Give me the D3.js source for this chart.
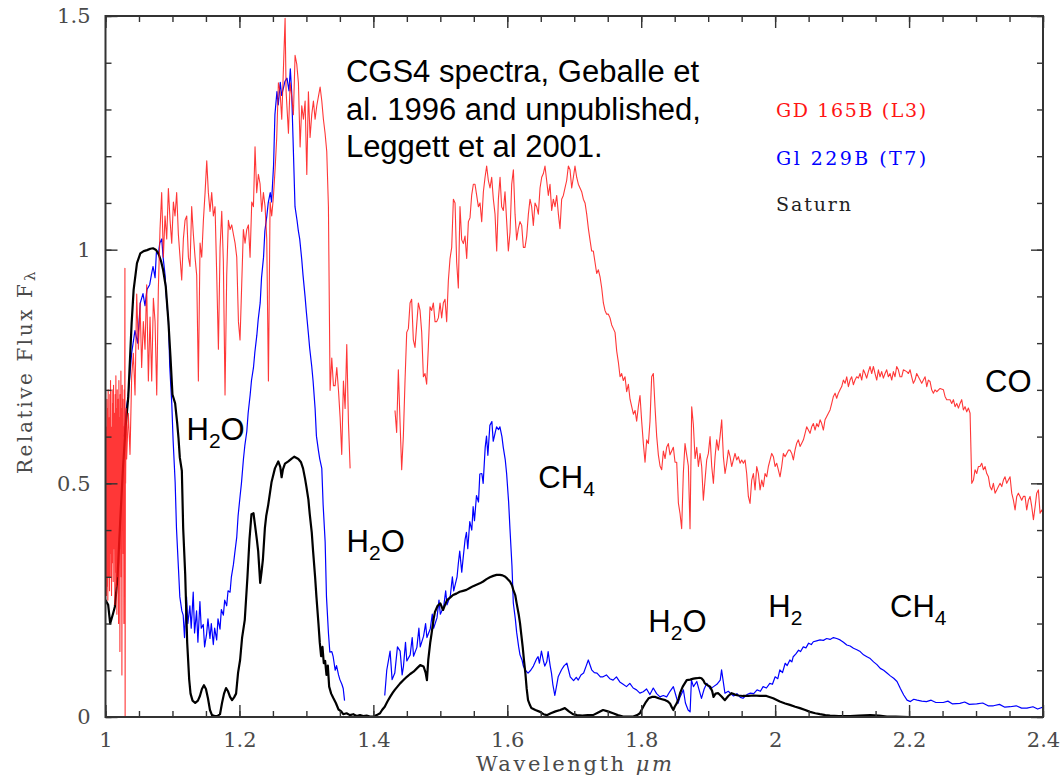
<!DOCTYPE html>
<html>
<head>
<meta charset="utf-8">
<script src="https://cdn.jsdelivr.net/npm/d3@7"></script>
<style>
  body { margin: 0; background: #fff; }
  svg { display: block; }
</style>
</head>
<body>
<svg id="chart" width="1063" height="780"></svg>
<script>
// ---- Spectra: [wavelength (µm), relative flux F_lambda] ----

// GD 165B (L3), J band (dense noisy start below 1.03 µm)
const gd165bJ = [
  [1.000,0.30],[1.001,0.62],[1.0015,0.26],[1.002,0.68],[1.0025,0.28],[1.003,0.66],[1.0035,0.25],[1.004,0.70],
  [1.005,0.30],[1.0055,0.64],[1.006,0.27],[1.0065,0.69],[1.007,0.35],[1.0075,0.72],[1.008,0.30],[1.0085,0.62],
  [1.009,0.26],[1.010,0.70],[1.0105,0.33],[1.011,0.67],[1.0115,0.29],[1.012,0.71],[1.0125,0.36],[1.013,0.65],
  [1.014,0.24],[1.0145,0.69],[1.015,0.31],[1.0155,0.73],[1.016,0.28],[1.0165,0.66],[1.017,0.22],[1.0175,0.70],
  [1.018,0.30],[1.019,0.68],[1.0195,0.20],[1.020,0.72],[1.0205,0.33],[1.021,0.64],[1.0215,0.14],[1.022,0.69],
  [1.0225,0.36],[1.023,0.74],[1.0235,0.30],[1.024,0.66],[1.0245,0.09],[1.025,0.71],[1.0255,0.40],[1.026,0.68],
  [1.0265,0.35],[1.027,0.62],[1.0275,0.20],[1.028,0.70],[1.0285,0.45],[1.029,0.96],[1.0293,0.00],[1.0297,0.55],
  [1.030,0.50],[1.031,0.66],[1.0316,0.552],[1.0341,0.650],[1.0366,0.562],[1.0391,0.729],[1.0416,0.778],
  [1.0441,0.689],[1.0466,0.905],[1.0491,0.787],[1.0516,0.886],[1.0540,0.748],[1.0565,0.846],[1.0590,0.787],
  [1.0615,0.925],[1.0640,0.719],[1.0665,0.856],[1.0690,0.719],[1.0715,0.896],[1.0740,0.846],[1.0765,0.689],
  [1.0789,0.915],[1.0814,1.043],[1.0839,1.122],[1.0864,0.984],[1.0889,1.072],[1.0914,1.023],[1.0939,1.131],
  [1.0964,1.063],[1.0989,1.014],[1.1014,1.102],[1.1038,1.072],[1.1063,1.122],[1.1088,1.033],[1.1113,0.984],
  [1.1138,0.935],[1.1163,1.023],[1.1188,1.063],[1.1213,1.072],[1.1238,0.984],[1.1262,0.964],[1.1287,1.092],
  [1.1312,1.033],[1.1337,0.984],[1.1362,0.945],[1.1387,0.719],[1.1412,1.014],[1.1437,0.984],[1.1462,1.063],
  [1.1487,1.122],[1.1512,1.190],[1.1536,1.122],[1.1561,1.082],[1.1586,1.122],[1.1611,1.072],[1.1636,1.092],
  [1.1661,0.945],[1.1686,0.787],[1.1711,1.004],[1.1736,1.082],[1.1760,0.974],[1.1785,0.689],[1.1810,0.945],
  [1.1835,1.063],[1.1860,1.043],[1.1885,1.053],[1.1910,1.033],[1.1935,1.014],[1.1960,0.984],[1.1985,0.846],
  [1.2009,0.807],[1.2034,0.925],[1.2059,1.043],[1.2084,1.014],[1.2109,1.043],[1.2134,1.053],[1.2159,0.984],
  [1.2184,1.102],[1.2209,1.092],[1.2233,1.220],[1.2258,1.122],[1.2283,1.161],[1.2308,1.141],[1.2333,1.082],
  [1.2358,1.122],[1.2383,1.092],[1.2408,1.023],[1.2433,0.719],[1.2458,1.102],[1.2482,1.072],[1.2507,1.112],
  [1.2532,1.171],[1.2557,1.240],[1.2582,1.357],[1.2607,1.338],[1.2632,1.279],[1.2657,1.387],[1.2682,1.495],
  [1.2697,1.338],[1.2732,1.249],[1.2757,1.357],[1.2781,1.328],[1.2806,1.289],[1.2831,1.416],[1.2856,1.397],
  [1.2881,1.357],[1.2906,1.220],[1.2931,1.308],[1.2956,1.279],[1.2981,1.318],[1.3006,1.161],[1.3030,1.338],
  [1.3055,1.240],[1.3080,1.289],[1.3105,1.318],[1.3130,1.279],[1.3155,1.308],[1.3180,1.328],[1.3205,1.348],
  [1.3230,1.318],[1.3254,1.279],[1.3279,1.249],[1.3304,1.210],[1.3329,1.092],[1.3354,0.699],[1.3379,0.768],
  [1.3404,0.709],[1.3429,0.709],[1.3454,0.748],[1.3479,0.699],[1.3504,0.640],[1.3528,0.562],[1.3553,0.719],
  [1.3578,0.660],[1.3603,0.797],[1.3628,0.630],[1.3653,0.532]
];

// GD 165B (L3), H and K bands
const gd165bHK = [
  [1.4323,0.656],[1.4348,0.609],[1.4373,0.743],[1.4398,0.633],[1.4423,0.529],[1.4448,0.601],[1.4473,0.720],
  [1.4498,0.823],[1.4523,0.831],[1.4548,0.886],[1.4572,0.894],[1.4597,0.807],[1.4622,0.791],[1.4647,0.839],
  [1.4672,0.886],[1.4697,0.870],[1.4722,0.823],[1.4747,0.728],[1.4771,0.735],[1.4796,0.712],[1.4821,0.791],
  [1.4846,0.878],[1.4871,0.870],[1.4896,0.886],[1.4921,0.846],[1.4946,0.846],[1.4971,0.854],[1.4996,0.886],
  [1.5020,0.854],[1.5045,0.886],[1.5070,0.894],[1.5095,0.846],[1.5120,0.934],[1.5145,0.981],[1.5170,1.005],
  [1.5195,1.108],[1.5220,1.100],[1.5244,0.973],[1.5269,0.918],[1.5294,1.092],[1.5319,1.021],[1.5344,1.013],
  [1.5369,1.029],[1.5394,0.981],[1.5419,1.060],[1.5443,1.068],[1.5468,1.116],[1.5493,1.140],[1.5518,1.140],
  [1.5543,1.116],[1.5568,1.092],[1.5593,1.100],[1.5618,1.060],[1.5643,1.124],[1.5668,1.155],[1.5692,1.179],
  [1.5717,1.148],[1.5742,1.132],[1.5767,1.155],[1.5792,1.108],[1.5817,1.076],[1.5842,0.997],[1.5867,1.108],
  [1.5892,1.155],[1.5916,1.092],[1.5941,1.084],[1.5966,1.124],[1.5991,1.060],[1.6016,0.997],[1.6041,1.037],
  [1.6066,1.140],[1.6091,1.171],[1.6116,1.076],[1.6140,1.021],[1.6165,1.045],[1.6190,1.060],[1.6215,1.052],
  [1.6240,1.005],[1.6265,1.005],[1.6290,1.029],[1.6315,1.076],[1.6339,1.108],[1.6364,1.092],[1.6389,1.052],
  [1.6414,1.100],[1.6439,1.092],[1.6464,1.076],[1.6489,1.132],[1.6514,1.155],[1.6539,1.163],[1.6563,1.179],
  [1.6588,1.148],[1.6613,1.116],[1.6638,1.140],[1.6663,1.084],[1.6688,1.108],[1.6713,1.092],[1.6738,1.116],
  [1.6763,1.076],[1.6787,1.045],[1.6812,1.108],[1.6837,1.116],[1.6862,1.132],[1.6887,1.148],[1.6912,1.179],
  [1.6937,1.171],[1.6962,1.132],[1.6987,1.155],[1.7011,1.179],[1.7036,1.155],[1.7061,1.140],[1.7086,1.132],
  [1.7111,1.124],[1.7136,1.108],[1.7161,1.100],[1.7186,1.076],[1.7211,1.045],[1.7235,1.021],[1.7260,0.997],
  [1.7285,0.997],[1.7310,0.973],[1.7335,0.949],[1.7360,0.957],[1.7385,0.942],[1.7410,0.918],[1.7435,0.886],
  [1.7459,0.870],[1.7484,0.862],[1.7509,0.862],[1.7534,0.854],[1.7559,0.839],[1.7584,0.831],[1.7609,0.823],
  [1.7634,0.783],[1.7659,0.759],[1.7684,0.728],[1.7708,0.735],[1.7733,0.720],[1.7758,0.728],[1.7783,0.696],
  [1.7808,0.712],[1.7833,0.680],[1.7858,0.664],[1.7883,0.648],[1.7908,0.656],[1.7932,0.633],[1.7957,0.664],
  [1.7982,0.688],[1.8007,0.633],[1.8032,0.585],[1.8057,0.545],[1.8082,0.593],[1.8107,0.585],[1.8131,0.633],
  [1.8156,0.728],[1.8181,0.735],[1.8206,0.664],[1.8231,0.601],[1.8256,0.561],[1.8281,0.537],[1.8306,0.529],
  [1.8331,0.569],[1.8356,0.553],[1.8380,0.577],[1.8405,0.585],[1.8430,0.561],[1.8455,0.569],[1.8480,0.577],
  [1.8505,0.545],[1.8530,0.545],[1.8555,0.458],[1.8580,0.435],[1.8604,0.403],[1.8629,0.522],[1.8654,0.585],
  [1.8679,0.561],[1.8704,0.537],[1.8729,0.403],[1.8754,0.664],[1.8779,0.625],[1.8804,0.553],[1.8829,0.577],
  [1.8854,0.536],[1.8879,0.564],[1.8903,0.536],[1.8928,0.464],[1.8953,0.507],[1.8978,0.550],[1.9003,0.564],
  [1.9028,0.600],[1.9053,0.536],[1.9078,0.500],[1.9103,0.557],[1.9127,0.593],[1.9152,0.571],[1.9177,0.600],
  [1.9202,0.636],[1.9227,0.557],[1.9252,0.521],[1.9277,0.543],[1.9302,0.571],[1.9327,0.557],[1.9351,0.536],
  [1.9376,0.550],[1.9401,0.564],[1.9426,0.550],[1.9451,0.557],[1.9476,0.543],[1.9501,0.550],[1.9526,0.543],
  [1.9551,0.550],[1.9575,0.521],[1.9600,0.472],[1.9625,0.457],[1.9650,0.507],[1.9675,0.521],[1.9700,0.486],
  [1.9725,0.536],[1.9750,0.521],[1.9775,0.486],[1.9800,0.507],[1.9824,0.493],[1.9849,0.521],[1.9874,0.514],
  [1.9899,0.536],[1.9924,0.550],[1.9949,0.564],[1.9974,0.557],[1.9999,0.536],[2.0023,0.543],[2.0048,0.529],
  [2.0073,0.514],[2.0098,0.536],[2.0123,0.564],[2.0148,0.557],[2.0173,0.564],[2.0198,0.571],[2.0223,0.571],
  [2.0248,0.564],[2.0272,0.550],[2.0297,0.571],[2.0322,0.586],[2.0347,0.593],[2.0372,0.579],[2.0397,0.586],
  [2.0422,0.593],[2.0447,0.607],[2.0471,0.621],[2.0496,0.614],[2.0521,0.607],[2.0546,0.621],[2.0571,0.628],
  [2.0596,0.614],[2.0621,0.628],[2.0646,0.621],[2.0671,0.636],[2.0695,0.628],[2.0720,0.614],[2.0745,0.636],
  [2.0770,0.643],[2.0795,0.650],[2.0820,0.657],[2.0845,0.671],[2.0870,0.686],[2.0895,0.693],[2.0919,0.682],
  [2.0944,0.693],[2.0969,0.700],[2.0994,0.707],[2.1019,0.721],[2.1044,0.714],[2.1069,0.728],[2.1094,0.707],
  [2.1119,0.721],[2.1143,0.728],[2.1168,0.711],[2.1193,0.721],[2.1218,0.728],[2.1243,0.725],[2.1268,0.735],
  [2.1293,0.721],[2.1318,0.743],[2.1343,0.735],[2.1367,0.725],[2.1392,0.739],[2.1417,0.750],[2.1442,0.735],
  [2.1467,0.750],[2.1492,0.735],[2.1517,0.721],[2.1542,0.743],[2.1566,0.728],[2.1591,0.739],[2.1616,0.725],
  [2.1641,0.735],[2.1666,0.743],[2.1691,0.728],[2.1716,0.735],[2.1741,0.721],[2.1766,0.739],[2.1790,0.728],
  [2.1815,0.750],[2.1840,0.743],[2.1865,0.728],[2.1890,0.728],[2.1915,0.743],[2.1965,0.739],[2.1990,0.735],
  [2.2015,0.743],[2.2039,0.728],[2.2064,0.714],[2.2089,0.721],[2.2114,0.735],[2.2139,0.728],[2.2164,0.721],
  [2.2189,0.714],[2.2214,0.721],[2.2239,0.728],[2.2264,0.707],[2.2288,0.721],[2.2313,0.718],[2.2338,0.700],
  [2.2363,0.693],[2.2388,0.700],[2.2413,0.696],[2.2463,0.703],[2.2513,0.700],[2.2537,0.686],[2.2562,0.679],
  [2.2612,0.679],[2.2637,0.671],[2.2662,0.679],[2.2687,0.664],[2.2712,0.671],[2.2737,0.661],[2.2761,0.671],
  [2.2786,0.679],[2.2811,0.657],[2.2836,0.664],[2.2861,0.653],[2.2886,0.661],[2.2911,0.650],[2.2936,0.500],
  [2.2961,0.507],[2.2985,0.529],[2.3010,0.521],[2.3035,0.536],[2.3060,0.536],[2.3085,0.543],[2.3110,0.529],
  [2.3135,0.536],[2.3160,0.521],[2.3185,0.514],[2.3209,0.493],[2.3234,0.486],[2.3259,0.500],[2.3284,0.479],
  [2.3309,0.486],[2.3334,0.493],[2.3359,0.500],[2.3384,0.493],[2.3409,0.507],[2.3433,0.514],[2.3458,0.500],
  [2.3483,0.507],[2.3508,0.514],[2.3533,0.479],[2.3558,0.464],[2.3583,0.443],[2.3608,0.472],[2.3632,0.479],
  [2.3657,0.472],[2.3682,0.464],[2.3707,0.472],[2.3732,0.472],[2.3757,0.443],[2.3782,0.464],[2.3807,0.472],
  [2.3832,0.450],[2.3857,0.422],[2.3882,0.450],[2.3906,0.479],[2.3931,0.486],[2.3956,0.436],[2.3981,0.443],
  [2.4000,0.436]
];

// Gl 229B (T7), J band
const gl229bJ = [
  [1.028,0.60],[1.031,0.66],[1.034,0.689],[1.039,0.778],[1.044,0.827],[1.048,0.80],[1.052,0.886],[1.056,0.906],
  [1.059,0.88],[1.062,0.915],[1.066,0.925],[1.069,0.95],[1.071,0.964],[1.074,0.94],[1.076,0.994],[1.079,0.99],
  [1.081,1.014],[1.084,1.023],[1.086,0.984],[1.089,0.945],[1.091,0.896],[1.094,0.847],[1.096,0.748],[1.099,0.670],
  [1.101,0.591],[1.104,0.503],[1.106,0.404],[1.109,0.316],[1.111,0.257],[1.114,0.227],[1.116,0.218],[1.118,0.17],
  [1.121,0.257],[1.123,0.20],[1.126,0.238],[1.128,0.19],[1.131,0.267],[1.133,0.18],[1.136,0.227],[1.138,0.16],
  [1.141,0.247],[1.143,0.19],[1.146,0.198],[1.148,0.15],[1.151,0.178],[1.153,0.21],[1.156,0.168],[1.158,0.20],
  [1.161,0.155],[1.163,0.19],[1.166,0.165],[1.168,0.21],[1.171,0.188],[1.173,0.23],[1.176,0.218],[1.178,0.25],
  [1.181,0.238],[1.183,0.27],[1.186,0.267],[1.188,0.30],[1.191,0.326],[1.193,0.35],[1.196,0.385],[1.198,0.43],
  [1.201,0.473],[1.203,0.50],[1.206,0.552],[1.208,0.58],[1.211,0.611],[1.213,0.65],[1.216,0.689],[1.218,0.72],
  [1.221,0.748],[1.223,0.78],[1.226,0.817],[1.228,0.85],[1.231,0.886],[1.233,0.94],[1.236,0.984],[1.238,1.04],
  [1.241,1.073],[1.243,1.10],[1.246,1.122],[1.248,1.102],[1.251,1.181],[1.253,1.289],[1.256,1.338],[1.258,1.31],
  [1.261,1.358],[1.263,1.33],[1.266,1.348],[1.268,1.36],[1.271,1.367],[1.274,1.34],[1.276,1.387],[1.278,1.338],
  [1.280,1.240],[1.283,1.092],[1.286,1.063],[1.288,1.04],[1.290,1.023],[1.293,0.98],[1.295,0.945],[1.298,0.90],
  [1.300,0.866],[1.303,0.82],[1.305,0.788],[1.308,0.75],[1.310,0.719],[1.313,0.66],[1.315,0.601],[1.318,0.57],
  [1.320,0.552],[1.323,0.532],[1.325,0.454],[1.328,0.375],[1.330,0.257],[1.333,0.178],[1.335,0.139],[1.338,0.14],
  [1.340,0.129],[1.343,0.10],[1.345,0.110],[1.348,0.09],[1.350,0.080],[1.353,0.07],[1.355,0.061],[1.357,0.035]
];

// Gl 229B (T7), H and K bands
const gl229bHK = [
  [1.417,0.046],[1.420,0.10],[1.425,0.141],[1.428,0.08],[1.432,0.094],[1.436,0.15],[1.440,0.141],[1.443,0.09],
  [1.445,0.109],[1.448,0.16],[1.450,0.12],[1.455,0.133],[1.458,0.17],[1.460,0.13],[1.465,0.149],[1.468,0.19],
  [1.470,0.15],[1.475,0.173],[1.478,0.20],[1.480,0.17],[1.485,0.189],[1.488,0.22],[1.490,0.19],[1.495,0.212],
  [1.498,0.25],[1.500,0.22],[1.505,0.236],[1.508,0.27],[1.510,0.24],[1.515,0.260],[1.518,0.30],[1.520,0.27],
  [1.525,0.300],[1.527,0.33],[1.529,0.355],[1.532,0.31],[1.534,0.339],[1.537,0.38],[1.539,0.395],[1.541,0.36],
  [1.544,0.418],[1.547,0.40],[1.549,0.450],[1.551,0.42],[1.554,0.474],[1.557,0.46],[1.559,0.52],[1.562,0.521],
  [1.564,0.50],[1.567,0.577],[1.569,0.601],[1.571,0.56],[1.574,0.624],[1.577,0.632],[1.579,0.59],[1.582,0.609],
  [1.584,0.621],[1.587,0.615],[1.589,0.621],[1.592,0.60],[1.594,0.577],[1.597,0.55],[1.599,0.521],[1.602,0.46],
  [1.604,0.403],[1.607,0.323],[1.609,0.244],[1.612,0.21],[1.614,0.181],[1.617,0.15],[1.619,0.133],[1.622,0.122],
  [1.624,0.109],[1.627,0.10],[1.631,0.094],[1.635,0.10],[1.639,0.109],[1.644,0.125],[1.646,0.129],[1.648,0.115],
  [1.651,0.141],[1.654,0.12],[1.656,0.109],[1.659,0.118],[1.661,0.140],[1.664,0.11],[1.666,0.094],[1.668,0.07],
  [1.671,0.046],[1.674,0.07],[1.676,0.086],[1.681,0.101],[1.685,0.11],[1.689,0.115],[1.694,0.086],[1.699,0.078],
  [1.703,0.085],[1.706,0.079],[1.710,0.09],[1.714,0.094],[1.718,0.11],[1.721,0.122],[1.726,0.101],[1.730,0.095],
  [1.734,0.094],[1.739,0.086],[1.743,0.086],[1.748,0.09],[1.753,0.082],[1.758,0.079],[1.763,0.086],[1.768,0.075],
  [1.773,0.070],[1.778,0.065],[1.783,0.072],[1.788,0.062],[1.793,0.058],[1.798,0.051],[1.803,0.054],[1.808,0.06],
  [1.813,0.048],[1.818,0.062],[1.823,0.05],[1.828,0.043],[1.833,0.046],[1.838,0.043],[1.843,0.055],[1.848,0.065],
  [1.852,0.045],[1.855,0.029],[1.858,0.043],[1.863,0.058],[1.866,0.03],[1.870,0.015],[1.873,0.011],[1.875,0.079],
  [1.878,0.065],[1.883,0.076],[1.886,0.06],[1.890,0.040],[1.894,0.06],[1.898,0.072],[1.903,0.06],[1.908,0.065],
  [1.913,0.07],[1.918,0.079],[1.920,0.101],[1.925,0.051],[1.930,0.055],[1.933,0.051],[1.938,0.045],[1.943,0.05],
  [1.948,0.042],[1.952,0.040],[1.958,0.048],[1.963,0.051],[1.968,0.05],[1.973,0.058],[1.978,0.055],[1.982,0.065],
  [1.987,0.062],[1.992,0.072],[1.996,0.07],[2.000,0.086],[2.004,0.082],[2.007,0.101],[2.011,0.095],[2.015,0.115],
  [2.018,0.11],[2.022,0.122],[2.025,0.118],[2.027,0.129],[2.031,0.135],[2.035,0.143],[2.038,0.14],[2.042,0.150],
  [2.046,0.148],[2.050,0.158],[2.054,0.155],[2.057,0.161],[2.062,0.163],[2.067,0.165],[2.072,0.164],[2.077,0.168],
  [2.082,0.166],[2.087,0.170],[2.092,0.168],[2.097,0.165],[2.102,0.160],[2.107,0.154],[2.112,0.152],[2.117,0.147],
  [2.122,0.144],[2.127,0.140],[2.132,0.133],[2.137,0.129],[2.142,0.125],[2.147,0.118],[2.152,0.112],[2.157,0.104],
  [2.162,0.100],[2.167,0.094],[2.172,0.088],[2.177,0.083],[2.182,0.076],[2.187,0.061],[2.192,0.047],[2.197,0.036],
  [2.202,0.033],[2.207,0.038],[2.212,0.036],[2.219,0.034],[2.226,0.033],[2.233,0.036],[2.240,0.031],[2.251,0.031],
  [2.258,0.034],[2.265,0.028],[2.276,0.029],[2.283,0.032],[2.290,0.027],[2.301,0.028],[2.310,0.030],[2.318,0.024],
  [2.326,0.024],[2.335,0.027],[2.343,0.021],[2.351,0.022],[2.360,0.024],[2.368,0.019],[2.376,0.019],[2.385,0.022],
  [2.392,0.017],[2.400,0.021]
];

// Saturn
const saturn = [
  [1.000,0.25],[1.004,0.24],[1.007,0.200],[1.011,0.22],[1.014,0.236],[1.018,0.30],[1.022,0.42],[1.026,0.53],
  [1.030,0.62],[1.034,0.685],[1.039,0.842],[1.042,0.914],[1.047,0.971],[1.052,0.992],[1.057,0.997],[1.062,0.999],
  [1.067,1.002],[1.071,1.003],[1.075,1.000],[1.079,0.992],[1.083,0.975],[1.086,0.957],[1.090,0.921],[1.094,0.845],
  [1.097,0.771],[1.100,0.690],[1.104,0.671],[1.107,0.63],[1.109,0.597],[1.111,0.555],[1.114,0.527],[1.116,0.404],
  [1.119,0.306],[1.122,0.159],[1.125,0.080],[1.127,0.05],[1.130,0.035],[1.134,0.03],[1.138,0.035],[1.141,0.045],
  [1.144,0.06],[1.147,0.068],[1.150,0.06],[1.153,0.04],[1.156,0.015],[1.159,0.004],[1.163,0.002],[1.167,0.002],
  [1.171,0.006],[1.174,0.03],[1.177,0.05],[1.180,0.062],[1.183,0.055],[1.186,0.043],[1.189,0.036],[1.192,0.042],
  [1.195,0.05],[1.198,0.095],[1.201,0.122],[1.204,0.17],[1.208,0.208],[1.212,0.30],[1.215,0.38],[1.218,0.434],
  [1.221,0.436],[1.223,0.414],[1.226,0.38],[1.228,0.355],[1.231,0.287],[1.233,0.31],[1.235,0.336],[1.238,0.404],
  [1.240,0.43],[1.243,0.454],[1.248,0.503],[1.253,0.532],[1.258,0.547],[1.261,0.535],[1.263,0.513],[1.265,0.53],
  [1.268,0.542],[1.273,0.547],[1.278,0.553],[1.282,0.557],[1.288,0.552],[1.292,0.545],[1.295,0.532],[1.298,0.51],
  [1.300,0.493],[1.303,0.465],[1.305,0.434],[1.308,0.395],[1.310,0.355],[1.313,0.30],[1.315,0.257],[1.318,0.20],
  [1.320,0.159],[1.322,0.13],[1.324,0.15],[1.326,0.115],[1.328,0.120],[1.330,0.090],[1.332,0.11],[1.334,0.065],
  [1.337,0.05],[1.340,0.041],[1.344,0.03],[1.348,0.016],[1.352,0.012],[1.355,0.006],[1.360,0.008],[1.365,0.004],
  [1.370,0.006],[1.375,0.002],[1.380,0.004],[1.385,0.002],[1.390,0.003],[1.395,0.001],[1.400,0.001],[1.405,0.004],
  [1.410,0.008],[1.413,0.015],[1.417,0.022],[1.421,0.033],[1.425,0.043],[1.429,0.052],[1.432,0.058],[1.436,0.065],
  [1.440,0.072],[1.445,0.079],[1.450,0.086],[1.455,0.092],[1.460,0.097],[1.465,0.104],[1.470,0.111],[1.475,0.108],
  [1.478,0.095],[1.480,0.079],[1.482,0.122],[1.485,0.16],[1.487,0.179],[1.490,0.21],[1.492,0.225],[1.496,0.238],
  [1.500,0.243],[1.504,0.229],[1.507,0.24],[1.510,0.250],[1.515,0.256],[1.519,0.261],[1.524,0.264],[1.529,0.268],
  [1.534,0.27],[1.539,0.272],[1.544,0.276],[1.549,0.280],[1.554,0.283],[1.559,0.286],[1.564,0.29],[1.569,0.295],
  [1.574,0.299],[1.579,0.302],[1.584,0.304],[1.589,0.304],[1.593,0.303],[1.597,0.300],[1.600,0.296],[1.604,0.290],
  [1.607,0.282],[1.609,0.272],[1.612,0.26],[1.614,0.243],[1.617,0.22],[1.619,0.201],[1.621,0.175],[1.623,0.150],
  [1.625,0.12],[1.627,0.094],[1.629,0.06],[1.631,0.036],[1.634,0.025],[1.636,0.019],[1.642,0.015],[1.649,0.011],
  [1.654,0.006],[1.659,0.004],[1.665,0.008],[1.672,0.012],[1.679,0.015],[1.686,0.019],[1.692,0.012],[1.698,0.006],
  [1.704,0.004],[1.712,0.003],[1.720,0.004],[1.728,0.004],[1.735,0.009],[1.743,0.015],[1.750,0.012],[1.758,0.008],
  [1.765,0.004],[1.773,0.001],[1.780,0.001],[1.788,0.001],[1.794,0.004],[1.798,0.008],[1.803,0.022],[1.807,0.032],
  [1.811,0.040],[1.816,0.043],[1.821,0.043],[1.826,0.040],[1.831,0.038],[1.836,0.036],[1.840,0.033],[1.843,0.029],
  [1.846,0.02],[1.848,0.015],[1.850,0.022],[1.853,0.029],[1.856,0.04],[1.858,0.051],[1.862,0.065],[1.865,0.072],
  [1.868,0.079],[1.873,0.080],[1.878,0.082],[1.883,0.083],[1.887,0.084],[1.890,0.083],[1.893,0.078],[1.895,0.072],
  [1.899,0.068],[1.903,0.065],[1.906,0.055],[1.908,0.043],[1.911,0.05],[1.915,0.051],[1.920,0.044],[1.925,0.036],
  [1.930,0.045],[1.935,0.051],[1.940,0.048],[1.945,0.046],[1.952,0.045],[1.960,0.045],[1.968,0.046],[1.977,0.045],
  [1.987,0.045],[1.997,0.040],[2.007,0.033],[2.015,0.029],[2.022,0.026],[2.030,0.022],[2.037,0.019],[2.045,0.015],
  [2.052,0.011],[2.060,0.008],[2.067,0.006],[2.075,0.004],[2.082,0.003],[2.095,0.002],[2.112,0.002],[2.125,0.003],
  [2.142,0.004],[2.155,0.003],[2.167,0.001],[2.180,0.001],[2.200,0.000]
];

// ---- Axes ----
const xMajorTicks = [1.0, 1.2, 1.4, 1.6, 1.8, 2.0, 2.2, 2.4];
const xTickLabels = ["1", "1.2", "1.4", "1.6", "1.8", "2", "2.2", "2.4"];
const yMajorTicks = [0, 0.5, 1.0, 1.5];
const yTickLabels = ["0", "0.5", "1", "1.5"];
const xMinorStep = 0.05;
const yMinorStep = 0.1;

// ---- Text ----
const legendNames = ["GD 165B (L3)", "Gl 229B (T7)", "Saturn"];
const creditLines = ["CGS4 spectra, Geballe et", "al. 1996 and unpublished,", "Leggett et al 2001."];
// Band labels: [main, subscript, trailing]
const bandLabels = [
  ["H", "2", "O"], ["H", "2", "O"], ["CH", "4", ""], ["H", "2", "O"],
  ["H", "2", ""], ["CH", "4", ""], ["CO", "", ""]
];

// ---- Layout ----
const svg = d3.select("#chart");
const plot = { left: 105.5, right: 1043, top: 16, bottom: 717 };
const x = d3.scaleLinear().domain([1.0, 2.4]).range([plot.left, plot.right]);
const y = d3.scaleLinear().domain([0, 1.5]).range([plot.bottom, plot.top]);

const colors = { gd: "#ff1414", gl: "#0000ff", sat: "#000000", axis: "#333333", label: "#4a4a4a" };

svg.append("defs").append("clipPath").attr("id", "plotClip")
  .append("rect").attr("x", plot.left).attr("y", plot.top)
  .attr("width", plot.right - plot.left).attr("height", plot.bottom - plot.top);

const line = d3.line().x(d => x(d[0])).y(d => y(d[1]));
const lines = svg.append("g").attr("clip-path", "url(#plotClip)")
  .attr("fill", "none").attr("stroke-linejoin", "round");

// Drawing order: T dwarf, then Saturn, then the L dwarf on top
[gl229bJ, gl229bHK].forEach(s => lines.append("path").datum(s).attr("d", line)
  .attr("stroke", colors.gl).attr("stroke-width", 1.2));
lines.append("path").datum(saturn).attr("d", line)
  .attr("stroke", colors.sat).attr("stroke-width", 2.2);
[gd165bJ, gd165bHK].forEach(s => lines.append("path").datum(s).attr("d", line)
  .attr("stroke", colors.gd).attr("stroke-width", 1.1).attr("stroke-opacity", 0.85));

// Ticks on all four sides, pointing inward
const xMinor = d3.range(1.0, 2.4 + 1e-9, xMinorStep).map(v => +v.toFixed(2));
const yMinor = d3.range(0, 1.5 + 1e-9, yMinorStep).map(v => +v.toFixed(2));
const fmtX = v => xTickLabels[xMajorTicks.findIndex(t => Math.abs(t - v) < 1e-9)];
const fmtY = v => yTickLabels[yMajorTicks.findIndex(t => Math.abs(t - v) < 1e-9)];

function drawAxis(gen, tx, ty) {
  const g = svg.append("g").attr("transform", `translate(${tx},${ty})`).call(gen);
  g.select(".domain").remove();
  g.selectAll(".tick line").attr("stroke", colors.axis).attr("stroke-width", 1.4);
  g.selectAll(".tick text").attr("fill", colors.label)
    .style("font-family", "'DejaVu Serif', serif").style("font-size", "21px");
  return g;
}
drawAxis(d3.axisBottom(x).tickValues(xMinor).tickSize(-6).tickFormat(""), 0, plot.bottom);
drawAxis(d3.axisBottom(x).tickValues(xMajorTicks).tickSize(-12).tickPadding(15).tickFormat(fmtX), 0, plot.bottom);
drawAxis(d3.axisTop(x).tickValues(xMinor).tickSize(-6).tickFormat(""), 0, plot.top);
drawAxis(d3.axisTop(x).tickValues(xMajorTicks).tickSize(-12).tickFormat(""), 0, plot.top);
drawAxis(d3.axisLeft(y).tickValues(yMinor).tickSize(-6).tickFormat(""), plot.left, 0);
drawAxis(d3.axisLeft(y).tickValues(yMajorTicks).tickSize(-12).tickPadding(15).tickFormat(fmtY), plot.left, 0);
drawAxis(d3.axisRight(y).tickValues(yMinor).tickSize(-6).tickFormat(""), plot.right, 0);
drawAxis(d3.axisRight(y).tickValues(yMajorTicks).tickSize(-12).tickFormat(""), plot.right, 0);

svg.append("rect").attr("x", plot.left).attr("y", plot.top)
  .attr("width", plot.right - plot.left).attr("height", plot.bottom - plot.top)
  .attr("fill", "none").attr("stroke", colors.axis).attr("stroke-width", 2);

// Axis titles
const xt = svg.append("text").attr("x", 476).attr("y", 771)
  .attr("fill", colors.label).attr("textLength", 196).attr("lengthAdjust", "spacing")
  .style("font-family", "'DejaVu Serif', serif").style("font-size", "21px");
xt.append("tspan").text("Wavelength ");
xt.append("tspan").style("font-style", "italic").text("\u03bcm");

const yt = svg.append("g").attr("transform", "translate(32,474) rotate(-90)");
yt.append("text").attr("x", 0).attr("y", 0).attr("textLength", 190).attr("lengthAdjust", "spacing")
  .attr("fill", colors.label).style("font-family", "'DejaVu Serif', serif").style("font-size", "20px")
  .text("Relative Flux F");
yt.append("text").attr("x", 193).attr("y", 3).attr("fill", colors.label)
  .style("font-family", "'DejaVu Serif', serif").style("font-size", "15px").text("\u03bb");

// Legend
const legendColors = [colors.gd, colors.gl, "#222"];
const legendY = [1.284, 1.181, 1.082];
legendNames.forEach((name, i) => {
  svg.append("text").attr("x", x(2.0014)).attr("y", y(legendY[i]))
    .attr("fill", legendColors[i]).attr("textLength", name.length * 12.5).attr("lengthAdjust", "spacing")
    .style("font-family", "'DejaVu Serif', serif").style("font-size", "19px").text(name);
});

// Credit text
creditLines.forEach((t, i) => {
  svg.append("text").attr("x", x(1.359)).attr("y", y([1.359, 1.277, 1.198][i]))
    .attr("fill", "#000").style("font-family", "'Liberation Sans', Arial, sans-serif")
    .style("font-size", "31px").text(t);
});

// Molecular band labels, anchored at [wavelength, flux] of their baseline start
const bandAnchors = [[1.121, 0.593], [1.360, 0.354], [1.6464, 0.490], [1.8106, 0.1825],
                     [1.9898, 0.2146], [2.1716, 0.2146], [2.3135, 0.696]];
bandLabels.forEach((parts, i) => {
  const t = svg.append("text").attr("x", x(bandAnchors[i][0])).attr("y", y(bandAnchors[i][1]))
    .attr("fill", "#000").style("font-family", "'Liberation Sans', Arial, sans-serif").style("font-size", "31px");
  t.append("tspan").text(parts[0]);
  if (parts[1]) t.append("tspan").attr("dy", 8).style("font-size", "21px").text(parts[1]);
  if (parts[2]) t.append("tspan").attr("dy", -8).text(parts[2]);
});
</script>
</body>
</html>
